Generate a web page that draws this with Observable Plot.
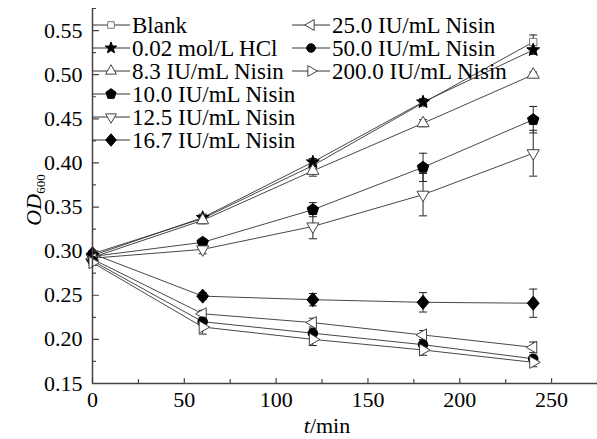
<!DOCTYPE html>
<html>
<head>
<meta charset="utf-8">
<script src="https://cdn.jsdelivr.net/npm/d3@7"></script>
<script src="https://cdn.jsdelivr.net/npm/@observablehq/plot@0.6"></script>
<style>
  html, body { margin: 0; padding: 0; background: #fff; }
  #chart { width: 597px; height: 439px; }
</style>
</head>
<body>
<div id="chart"></div>
<script>
// ---- data ----
const time = [0, 60, 120, 180, 240];
const seriesNames = ["Blank", "0.02 mol/L HCl", "8.3 IU/mL Nisin", "10.0 IU/mL Nisin", "12.5 IU/mL Nisin",
  "16.7 IU/mL Nisin", "25.0 IU/mL Nisin", "50.0 IU/mL Nisin", "200.0 IU/mL Nisin"];
const blank   = [0.297, 0.337, 0.397, 0.468, 0.537];
const hcl     = [0.295, 0.338, 0.401, 0.469, 0.528];
const nis8_3  = [0.293, 0.335, 0.391, 0.445, 0.500];
const nis10   = [0.294, 0.310, 0.347, 0.395, 0.449];
const nis12_5 = [0.292, 0.302, 0.328, 0.364, 0.411];
const nis16_7 = [0.297, 0.249, 0.245, 0.242, 0.241];
const nis25   = [0.291, 0.229, 0.219, 0.205, 0.191];
const nis50   = [0.289, 0.220, 0.207, 0.194, 0.178];
const nis200  = [0.287, 0.214, 0.200, 0.188, 0.174];
const errBlank   = [0.003, 0.004, 0.004, 0.004, 0.008];
const errHcl     = [0.003, 0.004, 0.004, 0.004, 0.005];
const err8_3     = [0.002, 0.004, 0.006, 0.004, 0.003];
const err10      = [0.002, 0.004, 0.008, 0.016, 0.015];
const err12_5    = [0.003, 0.005, 0.014, 0.024, 0.026];
const err16_7    = [0.003, 0.004, 0.007, 0.011, 0.016];
const err25      = [0.003, 0.004, 0.005, 0.005, 0.006];
const err50      = [0.003, 0.004, 0.005, 0.005, 0.004];
const err200     = [0.003, 0.008, 0.007, 0.006, 0.005];
const xMajorTicks = [0, 50, 100, 150, 200, 250];
const xMinorTicks = [25, 75, 125, 175, 225, 275];
const yMajorTicks = [0.15, 0.20, 0.25, 0.30, 0.35, 0.40, 0.45, 0.50, 0.55];
const yMinorTicks = [0.175, 0.225, 0.275, 0.325, 0.375, 0.425, 0.475, 0.525, 0.575];

// ---- marker shapes ----
function poly(n, rot, sx = 1, sy = 1) {
  return { draw(ctx, size) {
    const R = Math.sqrt(size / Math.PI);
    for (let i = 0; i < n; i++) {
      const a = rot + i * 2 * Math.PI / n;
      const px = R * sx * Math.cos(a), py = R * sy * Math.sin(a);
      i ? ctx.lineTo(px, py) : ctx.moveTo(px, py);
    }
    ctx.closePath();
  }};
}
const starShape = { draw(ctx, size) {
  const R = Math.sqrt(size / Math.PI), r = R * 0.42;
  for (let i = 0; i < 10; i++) {
    const a = -Math.PI / 2 + i * Math.PI / 5, rr = i % 2 ? r : R;
    const px = rr * Math.cos(a), py = rr * Math.sin(a);
    i ? ctx.lineTo(px, py) : ctx.moveTo(px, py);
  }
  ctx.closePath();
}};
const circleShape = { draw(ctx, size) {
  const R = Math.sqrt(size / Math.PI);
  ctx.moveTo(R, 0); ctx.arc(0, 0, R, 0, 2 * Math.PI);
}};
const capShape = { draw(ctx, size) {
  const R = Math.sqrt(size / Math.PI);
  ctx.moveTo(-R, 0); ctx.lineTo(R, 0);
}};
const tickShape = { draw(ctx, l) { ctx.moveTo(0, 0); ctx.lineTo(0, -l); } };

const seriesValues = [blank, hcl, nis8_3, nis10, nis12_5, nis16_7, nis25, nis50, nis200];
const seriesErrors = [errBlank, errHcl, err8_3, err10, err12_5, err16_7, err25, err50, err200];
const seriesSymbols = [
  poly(4, Math.PI / 4), starShape, poly(3, -Math.PI / 2), poly(5, -Math.PI / 2), poly(3, Math.PI / 2),
  poly(4, -Math.PI / 2, 0.85, 1), poly(3, Math.PI), circleShape, poly(3, 0)
];
const seriesR = [5.2, 6.8, 7, 6, 7, 7, 7, 4.8, 7];
const seriesFilled = [false, true, false, true, false, true, false, true, false];
const seriesMarkerStroke = ["#777", "#000", "#444", "#000", "#444", "#000", "#444", "#000", "#444"];

const rows = [];
seriesNames.forEach((name, s) => time.forEach((t, i) => rows.push({
  series: name, s, t, v: seriesValues[s][i], e: seriesErrors[s][i]
})));

const marks = [];
// lines
marks.push(Plot.line(rows, {x: "t", y: "v", z: "series", stroke: "#333", strokeWidth: 0.9}));
// error bars
marks.push(Plot.ruleX(rows, {x: "t", y1: d => d.v - d.e, y2: d => d.v + d.e, stroke: "#222", strokeWidth: 1}));
marks.push(Plot.dot(rows, {x: "t", y: d => d.v - d.e, symbol: capShape, r: 4, stroke: "#222", strokeWidth: 1, fill: "none"}));
marks.push(Plot.dot(rows, {x: "t", y: d => d.v + d.e, symbol: capShape, r: 4, stroke: "#222", strokeWidth: 1, fill: "none"}));
// markers
seriesNames.forEach((name, s) => {
  marks.push(Plot.dot(rows.filter(d => d.s === s), {
    x: "t", y: "v", symbol: seriesSymbols[s], r: seriesR[s],
    fill: seriesFilled[s] ? "#000" : "#fff", stroke: seriesMarkerStroke[s], strokeWidth: 1
  }));
});
// axis lines and inward ticks
marks.push(Plot.ruleX([0], {y1: 0.15, y2: 0.575, stroke: "#444", strokeWidth: 1.5}));
marks.push(Plot.ruleY([0.15], {x1: 0, x2: 275, stroke: "#444", strokeWidth: 1.5}));
marks.push(Plot.vector(yMajorTicks, {x: 0, y: d => d, length: 6, rotate: 90, anchor: "start", shape: tickShape, stroke: "#444", strokeWidth: 1.2}));
marks.push(Plot.vector(yMinorTicks, {x: 0, y: d => d, length: 3, rotate: 90, anchor: "start", shape: tickShape, stroke: "#444", strokeWidth: 1.2}));
marks.push(Plot.vector(xMajorTicks, {x: d => d, y: 0.15, length: 5, rotate: 0, anchor: "start", shape: tickShape, stroke: "#444", strokeWidth: 1.2}));
marks.push(Plot.vector(xMinorTicks, {x: d => d, y: 0.15, length: 4, rotate: 0, anchor: "start", shape: tickShape, stroke: "#444", strokeWidth: 1.2}));
// tick labels
marks.push(Plot.axisX({ticks: xMajorTicks, tickSize: 0, tickPadding: 8, fontSize: 22, label: null}));
marks.push(Plot.axisY({ticks: yMajorTicks, tickSize: 0, tickPadding: 10, fontSize: 22, tickFormat: d3.format(".2f"), label: null}));

const chart = Plot.plot({
  width: 597, height: 439,
  marginLeft: 92, marginRight: 0, marginTop: 8, marginBottom: 56,
  x: {domain: [0, 275]},
  y: {domain: [0.15, 0.575]},
  style: {fontFamily: "'Liberation Serif', 'Times New Roman', serif", fontSize: "22px", background: "#fff", color: "#000"},
  marks
});
document.getElementById("chart").appendChild(chart);

// ---- axis titles & legend (real text in the SVG) ----
const svg = d3.select(chart);
const font = "'Liberation Serif', 'Times New Roman', serif";
const yl = svg.append("text").attr("transform", "translate(41,200) rotate(-90)")
  .attr("text-anchor", "middle").attr("font-family", font).attr("font-size", 22).attr("fill", "#000");
yl.append("tspan").attr("font-style", "italic").text("OD");
yl.append("tspan").attr("font-size", 13).attr("dy", 4).text("600");

const xl = svg.append("text").attr("x", 327).attr("y", 433).attr("text-anchor", "middle")
  .attr("font-family", font).attr("font-size", 22).attr("fill", "#000");
xl.append("tspan").attr("font-style", "italic").text("t");
xl.append("tspan").text("/min");

const lg = svg.append("g");
seriesNames.forEach((name, s) => {
  const col = s < 6 ? 0 : 1, row = s < 6 ? s : s - 6;
  const x0 = col ? 292 : 92, baseline = 33 + 23 * row, cy = baseline - 8;
  const g = lg.append("g");
  g.append("line").attr("x1", x0).attr("x2", x0 + 38).attr("y1", cy).attr("y2", cy)
    .attr("stroke", "#333").attr("stroke-width", 1);
  g.append("path").attr("transform", `translate(${x0 + 19},${cy})`)
    .attr("d", d3.symbol(seriesSymbols[s], Math.PI * seriesR[s] * seriesR[s] * 0.8)())
    .attr("fill", seriesFilled[s] ? "#000" : "#fff").attr("stroke", seriesMarkerStroke[s]).attr("stroke-width", 1);
  g.append("text").attr("x", x0 + 40).attr("y", baseline).attr("text-anchor", "start").attr("font-family", font)
    .attr("font-size", 23).attr("fill", "#000").text(name);
});
</script>
</body>
</html>
